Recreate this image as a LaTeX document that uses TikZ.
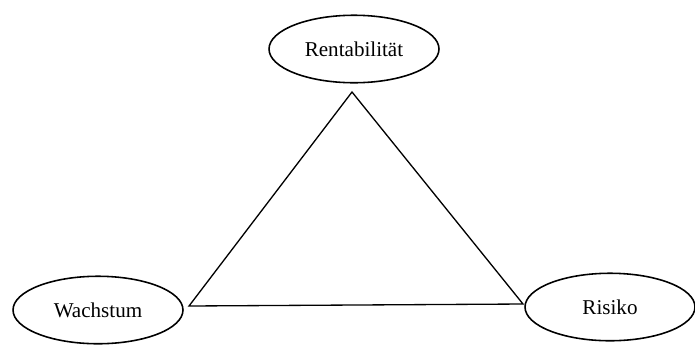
\documentclass[tikz,border=0pt]{standalone}
\usepackage{fontspec}
\setmainfont{Liberation Serif}
\usetikzlibrary{shapes.geometric}

\begin{document}
\begin{tikzpicture}[
          x=0.02cm, y=-0.02cm,
          every node/.style={font=\fontsize{12}{14}\selectfont},
          goalbox/.style={draw,ellipse,line width=0.9pt,minimum width=3.4cm,minimum height=1.35cm,inner sep=0pt},
          edge/.style={line width=0.75pt}
      ]
        \useasboundingbox (0,0) rectangle (695,345);
        \node[goalbox] (rent) at (354,49) {Rentabilität};
        \node[goalbox] (wachs) at (98,310) {Wachstum};
        \node[goalbox] (risk) at (610,307) {Risiko};

        \coordinate (top) at (352,92);
        \coordinate (left) at (189,306);
        \coordinate (right) at (523,304);

        \draw[edge] (top) -- (left) -- (right) -- cycle;
      \end{tikzpicture}
\end{document}
